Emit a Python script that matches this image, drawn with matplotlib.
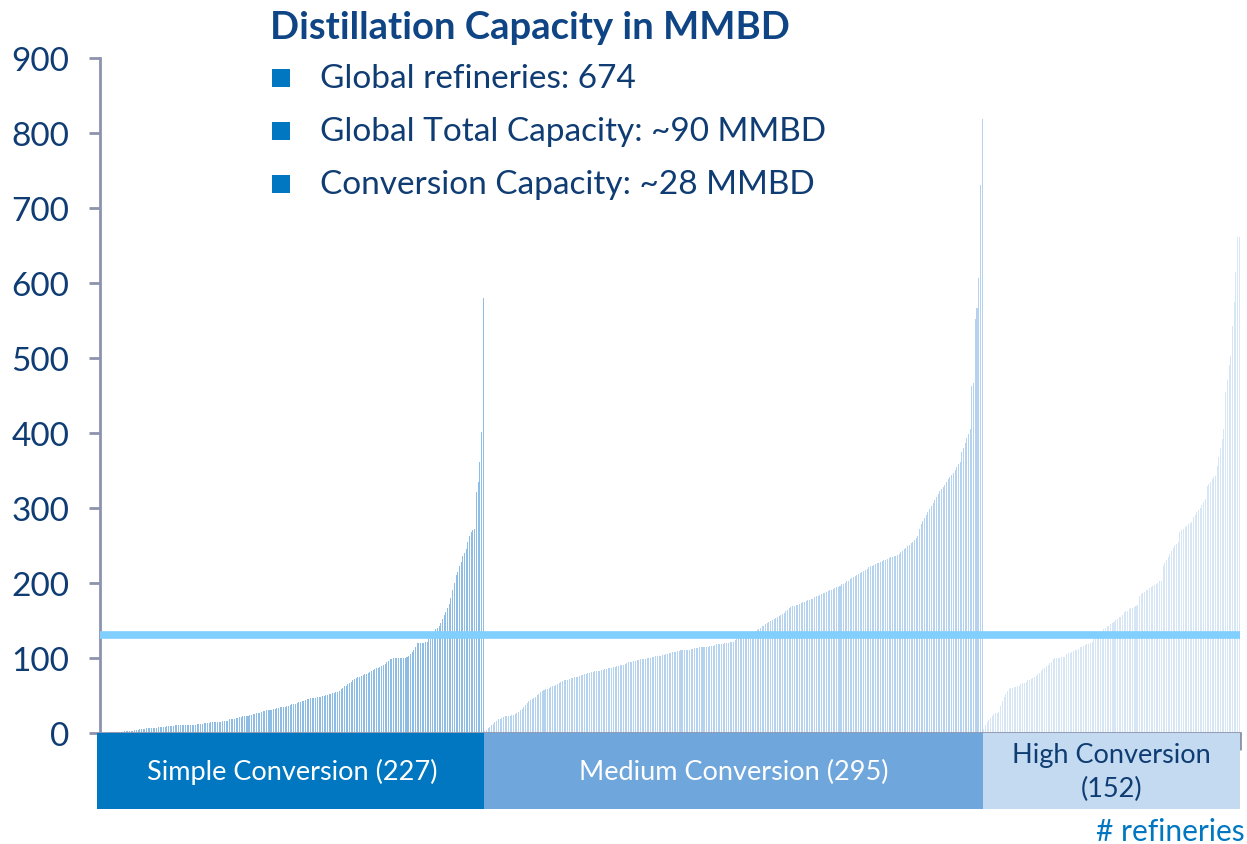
import matplotlib
matplotlib.use("Agg")
import matplotlib.pyplot as plt
from matplotlib.patches import Rectangle

plt.rcParams['font.family'] = ['Lato', 'DejaVu Sans']

# distillation capacity per refinery (kbd), sorted within each conversion group
simple = [0.5, 0.5, 0.5, 0.5, 0.5, 1, 1, 1, 1, 1, 1, 1.5, 1.5, 1.5, 2, 2, 2,
          3, 3, 3, 4, 4, 4, 5, 5, 5, 5, 6, 6, 6, 7, 7, 7, 7, 8, 8, 8,
          8, 8, 9, 9, 9, 9, 9, 10, 10, 10, 10, 10, 10, 11, 11, 11, 11, 11, 11, 11,
          12, 12, 12, 12, 13, 13, 13, 13, 14, 14, 14, 15, 15, 15, 15, 16, 16, 16, 16,
          18, 18, 19, 19, 20, 20, 21, 21, 22, 22, 23, 23, 24, 24, 25, 25, 26, 26, 27, 28,
          29, 29, 30, 30, 31, 31, 32, 32, 33, 33, 34, 34, 35, 35, 36, 36, 37, 38, 38, 39,
          40, 41, 41, 42, 43, 44, 45, 45, 46, 46, 47, 47, 48, 48, 48, 49, 49, 50, 50,
          52, 52, 53, 53, 54, 55, 56, 58, 60, 62, 63, 65, 66, 68, 70, 72, 73, 74, 75, 76,
          77, 78, 79, 80, 81, 82, 84, 85, 86, 87, 88, 89, 90, 92, 94, 96, 98, 99, 100, 100,
          100, 100, 100, 100, 100, 100, 101, 103, 105, 108, 110, 115, 120, 120, 120, 120, 120, 121, 121,
          125, 128, 131, 135, 138, 140, 143, 147, 152, 157,
          161, 166, 172, 180, 190, 200, 210, 215, 222, 228,
          236, 240, 245, 255, 262, 268, 270, 272,
          321, 335, 361, 401, 580]

medium = [2, 4, 6, 8, 10, 12, 14, 16, 18, 19,
          20, 21, 22, 22, 23, 23, 24, 24, 25, 26,
          28, 30, 32, 35, 37, 40, 42, 44, 45, 46,
          48, 50, 52, 54, 56, 57, 58, 59, 60, 61, 62, 63, 64, 65,
          67, 68, 69, 70, 70, 71, 72, 73, 73, 74, 75, 75, 76, 77, 77, 78, 79,
          80, 80, 81, 81, 82, 82, 83, 83, 84, 84, 85, 85, 86, 86, 87, 88, 88, 89, 89, 90, 90, 91, 92, 93, 94, 95,
          95, 96, 96, 97, 97, 98, 98, 99, 99, 100, 100, 100, 101, 101, 102, 102, 103, 103, 104, 104, 105, 105,
          107, 107, 108, 108, 108, 109, 109, 110, 110, 110, 111, 111, 111, 112, 112, 113, 113, 113,
          114, 114, 114, 115, 115, 115, 116, 116, 116,
          117, 118, 118, 119, 119, 119, 120, 120, 120, 121, 121, 121,
          124, 125, 126, 127, 128, 129, 130, 131, 132, 133, 134, 135, 136, 137,
          139, 140, 142, 143, 145, 146, 148, 149, 150, 152, 153, 154, 156, 157,
          158, 160, 162, 164, 166, 168, 169,
          169, 170, 171, 172, 173, 174, 175, 176, 177, 177, 178, 179,
          181, 182, 183, 184, 185, 186, 187, 188, 189, 190, 191, 192, 193, 194, 195, 196,
          198, 199, 200, 202, 203, 205, 206, 208, 209, 211, 212, 213, 214, 216, 217, 219,
          221, 222, 223, 224, 225, 226, 227, 228, 229, 230, 231, 232, 233, 234, 235, 236, 236, 237,
          239, 241, 243, 245, 247, 249, 251, 253, 255, 257, 260, 263,
          272, 278, 283, 287, 291, 295, 299,
          303, 306, 310, 314, 318, 322, 325, 328, 331, 334,
          338, 341, 344, 347, 350, 354, 358, 361,
          374, 380, 386, 393, 399, 405,
          463, 467, 552, 566, 607, 731, 819]

high = [5, 10, 14, 17, 20, 23,
        25, 26, 27, 28,
        36, 42, 48, 52, 56, 59,
        60, 60, 61, 61, 62, 62,
        65, 66, 67, 68, 70, 71, 72, 73, 75, 76,
        78, 80, 83, 85, 87, 89, 91, 93, 95, 98,
        100, 100, 100, 100, 101, 101, 101,
        105, 106, 107, 108, 109, 110, 111, 112,
        114, 115, 116, 117, 118, 119, 120, 121,
        125, 127, 129, 131, 133, 135,
        139, 140, 142, 143, 145, 146, 148, 150, 152, 154, 155, 157,
        161, 162, 163, 165, 166, 167, 168, 169, 170,
        183, 185, 186, 188, 190, 191, 193, 195, 196, 197, 199, 200, 202, 203,
        222, 226, 230, 234, 238, 242, 246, 250, 252, 254,
        268, 270, 272, 274, 276, 278, 280, 281,
        288, 291, 294, 297, 300, 304, 308, 312,
        329, 332, 335, 338, 341, 343,
        356, 368, 380, 392, 405,
        455, 470, 490, 503,
        543, 574, 614, 661, 661]

group_names = ['Simple Conversion (227)', 'Medium Conversion (295)', 'High Conversion\n(152)']
avg_line = 130
info_lines = ['Global refineries: 674',
              'Global Total Capacity: ~90 MMBD',
              'Conversion Capacity: ~28 MMBD']

bar_colors = ['#8DBCE4', '#B5D2EE', '#D6E6F5']
box_colors = ['#0077C0', '#6FA6DB', '#C3DAF0']
box_text = ['white', 'white', '#0E3C73']
navy = '#0E3C73'
grey = '#8C93AD'

fig = plt.figure(figsize=(12.47, 8.45), dpi=100)
ax = fig.add_axes([0.0802, 0.1314, 0.9142, 0.7988])

start = 0
for vals, col, name, bcol, tcol in zip([simple, medium, high], bar_colors, group_names, box_colors, box_text):
    xs = list(range(start, start + len(vals)))
    ax.bar(xs, vals, width=0.6, color=col, linewidth=0)
    left = start - 0.5 if start else -2.3
    ax.add_patch(Rectangle((left, -101), start - 0.5 + len(vals) - left, 101, facecolor=bcol,
                           edgecolor='none', clip_on=False, zorder=5))
    ax.text(start - 0.5 + len(vals) / 2, -51, name, ha='center', va='center', color=tcol,
            fontsize=19.5, zorder=6, linespacing=1.45)
    start += len(vals)

ax.axhline(avg_line, color='#80CFFF', lw=5.5, zorder=4)

ax.set_xlim(-0.5, start - 0.5)
ax.set_ylim(0, 900)
ax.set_yticks(range(0, 901, 100))
ax.set_xticks([start - 0.5])
ax.set_xticklabels([])
ax.tick_params(axis='y', length=8, width=2, color=grey, labelsize=24, labelcolor=navy, pad=14)
ax.tick_params(axis='x', length=12, width=2, color=grey)
for s in ['top', 'right']:
    ax.spines[s].set_visible(False)
for s in ['left', 'bottom']:
    ax.spines[s].set_color(grey)
    ax.spines[s].set_linewidth(2)

fig.text(270 / 1247, 1 - 28 / 845, 'Distillation Capacity in MMBD', fontsize=27.5,
         fontweight='bold', color='#0F4584', va='center')
for i, line in enumerate(info_lines):
    y = 1 - (79 + 53 * i) / 845
    fig.patches.append(Rectangle((272 / 1247, y - 9 / 845), 18 / 1247, 18 / 845,
                                 transform=fig.transFigure, facecolor='#0077C0', edgecolor='none'))
    fig.text(320 / 1247, y, line, fontsize=24, color=navy, va='center')

fig.text(1245 / 1247, 1 - 832 / 845, '# refineries', fontsize=21.5, color='#0077C0',
         ha='right', va='center')

fig.savefig('out.png', dpi=100)
